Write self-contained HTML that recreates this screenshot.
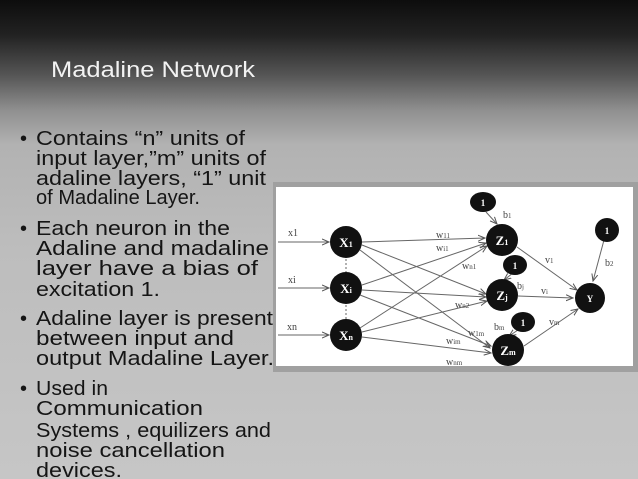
<!DOCTYPE html>
<html><head><meta charset="utf-8"><style>
html,body{margin:0;padding:0;width:638px;height:479px;overflow:hidden}
body{background:linear-gradient(to bottom,#0d0d0d 0px,#222 35px,#555 75px,#8f8f8f 110px,#b2b2b2 145px,#bdbdbd 250px,#c6c6c6 479px)}
svg{position:absolute;left:0;top:0}
.t{font-family:"Liberation Sans",sans-serif;font-size:20px;fill:#151515}
.d{font-family:"Liberation Serif",serif;fill:#444;font-size:10px}
.n{font-family:"Liberation Serif",serif;fill:#fff;font-size:13px;font-weight:bold}
</style></head><body>
<svg width="638" height="479" viewBox="0 0 638 479">
<defs><marker id="a" markerWidth="8" markerHeight="8" refX="7" refY="4" orient="auto" markerUnits="userSpaceOnUse"><path d="M0,1 L7,4 L0,7" fill="none" stroke="#555" stroke-width="1"/></marker></defs>
<text x="51" y="77" style="font-family:'Liberation Sans',sans-serif;font-size:22px;fill:#f2f2f2" textLength="204" lengthAdjust="spacingAndGlyphs">Madaline Network</text>
<g class="t">
<text x="20" y="145">•</text><text x="20" y="235">•</text><text x="20" y="325">•</text><text x="20" y="395">•</text>
<g lengthAdjust="spacingAndGlyphs">
<text x="36" y="145" textLength="209" lengthAdjust="spacingAndGlyphs">Contains “n” units of</text>
<text x="36" y="165" textLength="230" lengthAdjust="spacingAndGlyphs">input layer,”m” units of</text>
<text x="36" y="185" textLength="230" lengthAdjust="spacingAndGlyphs">adaline layers, “1” unit</text>
<text x="36" y="204" textLength="164" lengthAdjust="spacingAndGlyphs">of Madaline Layer.</text>
<text x="36" y="235" textLength="194" lengthAdjust="spacingAndGlyphs">Each neuron in the</text>
<text x="36" y="255" textLength="233" lengthAdjust="spacingAndGlyphs">Adaline and madaline</text>
<text x="36" y="275" textLength="222" lengthAdjust="spacingAndGlyphs">layer have a bias of</text>
<text x="36" y="296" textLength="124" lengthAdjust="spacingAndGlyphs">excitation 1.</text>
<text x="36" y="325" textLength="237" lengthAdjust="spacingAndGlyphs">Adaline layer is present</text>
<text x="36" y="345" textLength="198" lengthAdjust="spacingAndGlyphs">between input and</text>
<text x="36" y="365" textLength="238" lengthAdjust="spacingAndGlyphs">output Madaline Layer.</text>
<text x="36" y="395" textLength="72" lengthAdjust="spacingAndGlyphs">Used in</text>
<text x="36" y="415" textLength="167" lengthAdjust="spacingAndGlyphs">Communication</text>
<text x="36" y="437" textLength="235" lengthAdjust="spacingAndGlyphs">Systems , equilizers and</text>
<text x="36" y="457" textLength="189" lengthAdjust="spacingAndGlyphs">noise cancellation</text>
<text x="36" y="477" textLength="86" lengthAdjust="spacingAndGlyphs">devices.</text>
</g>
</g>
<rect x="273" y="182" width="367" height="190" fill="#a0a0a0"/>
<rect x="276" y="187" width="357" height="179" fill="#fff"/>
<g stroke="#666" stroke-width="1" fill="none" marker-end="url(#a)">
<line x1="278" y1="242" x2="329" y2="242"/>
<line x1="278" y1="288" x2="329" y2="288"/>
<line x1="278" y1="335" x2="329" y2="335"/>
<line x1="362" y1="242" x2="485" y2="238"/>
<line x1="362" y1="245" x2="486" y2="294"/>
<line x1="360" y1="250" x2="490" y2="348"/>
<line x1="362" y1="285" x2="486" y2="243"/>
<line x1="362" y1="290" x2="486" y2="297"/>
<line x1="360" y1="295" x2="491" y2="346"/>
<line x1="360" y1="328" x2="487" y2="246"/>
<line x1="362" y1="332" x2="487" y2="301"/>
<line x1="362" y1="337" x2="491" y2="353"/>
<line x1="517" y1="247" x2="577" y2="290"/>
<line x1="518" y1="296" x2="573" y2="298"/>
<line x1="524" y1="346" x2="578" y2="309"/>
<line x1="486" y1="212" x2="497" y2="224"/>
<line x1="513" y1="273" x2="504" y2="280"/>
<line x1="518" y1="330" x2="509" y2="336"/>
<line x1="604" y1="240" x2="593" y2="281"/>
</g>
<g stroke="#666" stroke-dasharray="2,2"><line x1="346" y1="259" x2="346" y2="272"/><line x1="346" y1="305" x2="346" y2="319"/></g>
<g fill="#111">
<circle cx="346" cy="242" r="16"/><circle cx="346" cy="288" r="16"/><circle cx="346" cy="335" r="16"/>
<circle cx="502" cy="240" r="16"/><circle cx="502" cy="295" r="16"/><circle cx="508" cy="350" r="16"/>
<circle cx="590" cy="298" r="15"/>
<ellipse cx="483" cy="202" rx="13" ry="10"/><ellipse cx="515" cy="265" rx="12" ry="10"/><ellipse cx="523" cy="322" rx="12" ry="10"/><circle cx="607" cy="230" r="12"/>
</g>
<g class="n" text-anchor="middle">
<text x="346" y="247">X<tspan font-size="8">1</tspan></text><text x="346" y="293">X<tspan font-size="8">i</tspan></text><text x="346" y="340">X<tspan font-size="8">n</tspan></text>
<text x="502" y="245">Z<tspan font-size="8">1</tspan></text><text x="502" y="300">Z<tspan font-size="8">j</tspan></text><text x="508" y="355">Z<tspan font-size="8">m</tspan></text>
<text x="590" y="302" font-size="9">Y</text>
<text x="483" y="206" font-size="9">1</text><text x="515" y="269" font-size="9">1</text><text x="523" y="326" font-size="9">1</text><text x="607" y="234" font-size="9">1</text>
</g>
<g class="d">
<text x="288" y="236">x1</text><text x="288" y="283">xi</text><text x="287" y="330">xn</text>
<text x="436" y="238">w<tspan font-size="7">11</tspan></text><text x="436" y="251">w<tspan font-size="7">i1</tspan></text><text x="462" y="269">w<tspan font-size="7">n1</tspan></text>
<text x="455" y="308">w<tspan font-size="7">n2</tspan></text><text x="468" y="336">w<tspan font-size="7">1m</tspan></text><text x="446" y="344">w<tspan font-size="7">im</tspan></text><text x="446" y="365">w<tspan font-size="7">nm</tspan></text>
<text x="503" y="218">b<tspan font-size="7">1</tspan></text><text x="517" y="289">b<tspan font-size="7">j</tspan></text><text x="494" y="330">b<tspan font-size="7">m</tspan></text><text x="605" y="266">b<tspan font-size="7">2</tspan></text>
<text x="545" y="263">v<tspan font-size="7">1</tspan></text><text x="541" y="294">v<tspan font-size="7">i</tspan></text><text x="549" y="325">v<tspan font-size="7">m</tspan></text>
</g>
</svg>
</body></html>
